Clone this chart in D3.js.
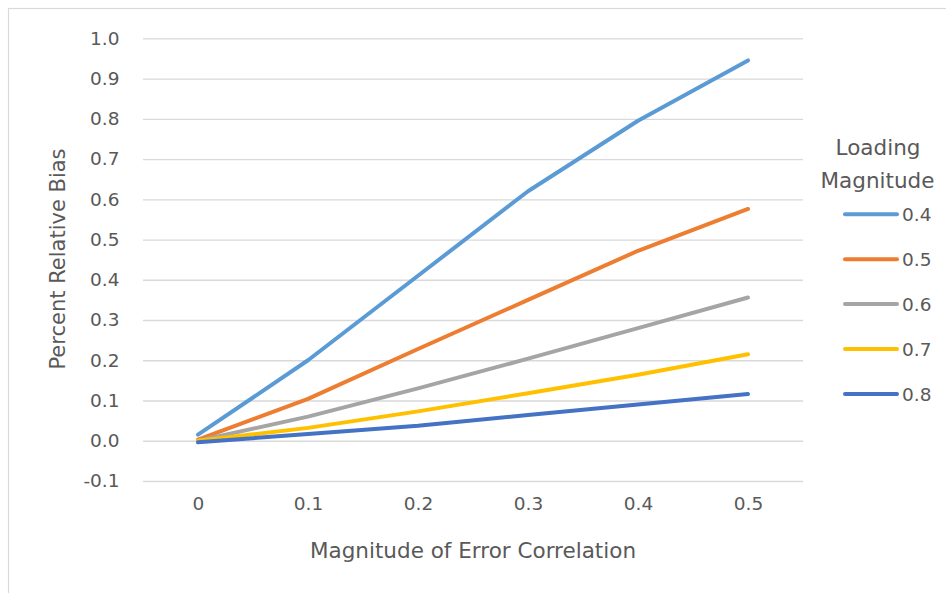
<!DOCTYPE html>
<html><head><meta charset="utf-8">
<script src="https://cdn.jsdelivr.net/npm/d3@7"></script>
<style>body{margin:0;background:#fff}svg{display:block}text{font-family:"DejaVu Sans",sans-serif;fill:#595959}</style>
</head><body>
<svg id="c" width="946" height="593"></svg>
<script>
const categories = ["0","0.1","0.2","0.3","0.4","0.5"];
const seriesNames = ["0.4","0.5","0.6","0.7","0.8"];
const s04 = [0.015, 0.200, 0.410, 0.620, 0.795, 0.945];
const s05 = [0.003, 0.104, 0.228, 0.350, 0.472, 0.576];
const s06 = [0.000, 0.060, 0.130, 0.204, 0.280, 0.356];
const s07 = [0.000, 0.032, 0.073, 0.118, 0.164, 0.215];
const s08 = [-0.004, 0.017, 0.037, 0.064, 0.090, 0.116];
const seriesValues = [s04, s05, s06, s07, s08];
const colors = ["#5B9BD5","#ED7D31","#A5A5A5","#FFC000","#4472C4"];
const yTicks = [-0.1,0,0.1,0.2,0.3,0.4,0.5,0.6,0.7,0.8,0.9,1.0];

const svg = d3.select("#c");
svg.append("rect").attr("x",8.5).attr("y",8.5).attr("width",960).attr("height",620)
  .attr("fill","none").attr("stroke","#D9D9D9").attr("stroke-width",1.2);

const L=143, R=803, T=38.3, B=481;
const x = d3.scalePoint().domain(categories).range([L,R]).padding(0.5);
const y = d3.scaleLinear().domain([-0.1,1.0]).range([B,T]);

const fmt = d => d3.format(".1f")(d).replace("\u2212","-");
const yAxis = d3.axisLeft(y).tickValues(yTicks).tickFormat(fmt).tickSize(-(R-L)).tickPadding(23.5);
const gy = svg.append("g").attr("transform",`translate(${L},0)`).call(yAxis);
gy.select(".domain").remove();
gy.selectAll(".tick line").attr("stroke","#D9D9D9").attr("stroke-width",1.3);
gy.selectAll(".tick text").attr("font-size",18.5).attr("font-family","DejaVu Sans").style("fill","#595959");

const xAxis = d3.axisBottom(x).tickSize(0).tickPadding(16);
const gx = svg.append("g").attr("transform",`translate(0,${B})`).call(xAxis);
gx.select(".domain").remove();
gx.selectAll(".tick text").attr("font-size",18.5).attr("font-family","DejaVu Sans").style("fill","#595959");

const line = d3.line().x((d,i)=>x(categories[i])).y(d=>y(d));
seriesValues.forEach((vals,k)=>{
  svg.append("path").datum(vals).attr("d",line).attr("fill","none")
    .attr("stroke",colors[k]).attr("stroke-width",4).attr("stroke-linecap","round").attr("stroke-linejoin","round");
});

svg.append("text").attr("x",473).attr("y",558).attr("text-anchor","middle").attr("font-size",21.5)
  .text("Magnitude of Error Correlation");
svg.append("text").attr("transform","translate(65,259) rotate(-90)").attr("text-anchor","middle").attr("font-size",21)
  .text("Percent Relative Bias");

svg.append("text").attr("x",878).attr("y",155).attr("text-anchor","middle").attr("font-size",21.5).text("Loading");
svg.append("text").attr("x",877.5).attr("y",188).attr("text-anchor","middle").attr("font-size",21.5).text("Magnitude");
const leg = svg.append("g");
seriesNames.forEach((n,k)=>{
  const ly = 214.3 + k*44.9;
  leg.append("line").attr("x1",845).attr("x2",897).attr("y1",ly).attr("y2",ly)
    .attr("stroke",colors[k]).attr("stroke-width",4).attr("stroke-linecap","round");
  leg.append("text").attr("x",902).attr("y",ly+7).attr("font-size",18.5).text(n);
});
</script>
</body></html>
